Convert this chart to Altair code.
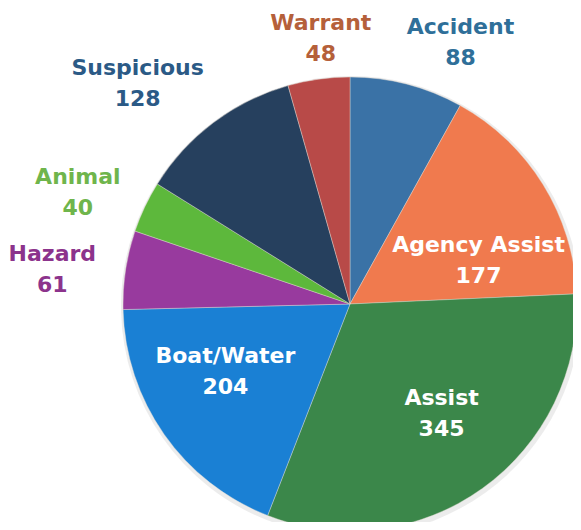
import altair as alt
import pandas as pd

categories = ["Accident", "Agency Assist", "Assist", "Boat/Water", "Hazard", "Animal", "Suspicious", "Warrant"]
values = [88, 177, 345, 204, 61, 40, 128, 48]

slice_colors = ["#3a72a6", "#f07a4e", "#3b874a", "#1a80d4", "#983a9e", "#5db83c", "#26405e", "#b84a48"]
label_colors = ["#2f6f99", "#ffffff", "#ffffff", "#ffffff", "#8c338c", "#6fb54c", "#2b5a86", "#b5603a"]
# label placement style: (radius, dx, dy)
label_style = {
    "Accident": (285, 39, -1),
    "Agency Assist": (130, 18, 9),
    "Assist": (140, 10, -20),
    "Boat/Water": (140, -10, -28),
    "Hazard": (295, -6, -6),
    "Animal": (290, -10, -3),
    "Suspicious": (300, -32, 4),
    "Warrant": (270, 8, -14),
}

df = pd.DataFrame({"category": categories, "value": values, "order": list(range(len(categories)))})

CX, CY, R = 342, 296, 227

base = alt.Chart(df)

shadow = base.mark_arc(outerRadius=R + 3, color="#c8c8c8", opacity=0.35).encode(
    theta=alt.Theta("value:Q", stack=True),
    order=alt.Order("order:Q"),
    x=alt.value(CX + 1), y=alt.value(CY + 2),
)

arcs = base.mark_arc(outerRadius=R, stroke="#e6ddd4", strokeWidth=0.4).encode(
    theta=alt.Theta("value:Q", stack=True),
    color=alt.Color("category:N", scale=alt.Scale(domain=categories, range=slice_colors), legend=None),
    order=alt.Order("order:Q"),
    x=alt.value(CX), y=alt.value(CY),
)

layers = [shadow, arcs]
lab = base.transform_window(
    cum="sum(value)", sort=[alt.SortField("order")], frame=[None, 0]
).transform_calculate(
    mid="datum.cum - datum.value / 2",
    label="datum.category + '\\n' + datum.value",
)
for cat, col in zip(categories, label_colors):
    r, dx, dy = label_style[cat]
    layers.append(
        lab.transform_filter(alt.datum.category == cat).mark_text(
            lineBreak="\n", font="DejaVu Sans", fontWeight="bold", fontSize=22,
            lineHeight=31, color=col, radius=r, dx=dx, dy=dy, align="center", baseline="middle",
        ).encode(
            theta=alt.Theta("mid:Q", stack=False),
            text="label:N",
            x=alt.value(CX), y=alt.value(CY),
        )
    )

chart = alt.layer(*layers).properties(
    width=565, height=514, padding=0, autosize="none", background="white"
).configure_view(stroke=None)

chart.save("out.html", embed_options={"renderer": "svg", "actions": False})
